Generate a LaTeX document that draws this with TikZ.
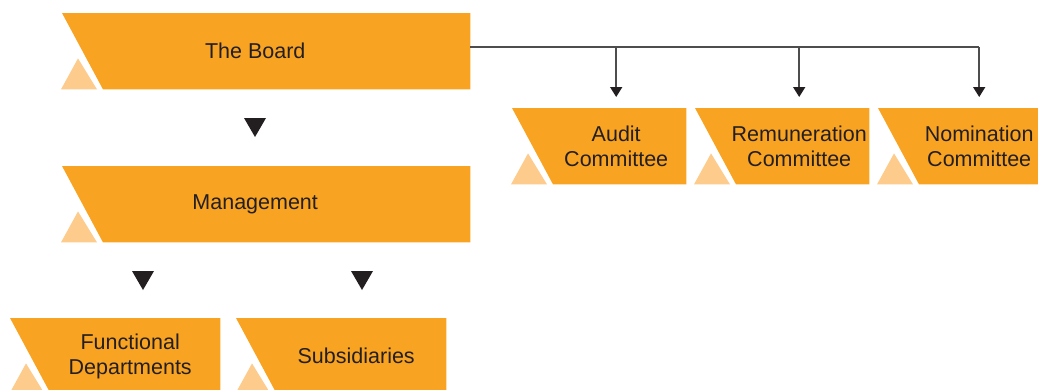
\documentclass[tikz,border=0pt]{standalone}
\usepackage{fontspec}
\setmainfont{Liberation Sans}
\usepackage{tikz}
\usetikzlibrary{positioning, arrows.meta, calc}

\definecolor{govorange}{HTML}{F9A323}
\definecolor{govlight}{HTML}{FDCB8B}
\definecolor{govtext}{HTML}{231F20}
\definecolor{govline}{HTML}{4D4D4D}

% #1 name, #2 top left corner, #3 width, #4 text shift, #5 text
\newcommand\govbox[5]{
    \node[boxframe, minimum width=#3, anchor=north west] (#1) at #2 {};
    \fill[govorange] (#1.north west) -- (#1.north east) -- (#1.south east)
        -- ([xshift=41pt]#1.south west) -- cycle;
    \fill[govlight] ([xshift=-1pt]#1.south west) -- ([xshift=16pt, yshift=31pt]#1.south west)
        -- ([xshift=35pt]#1.south west) -- cycle;
    \node[boxtext] (#1 text) at ([xshift=#4]#1.center) {#5};
}

\begin{document}
\begin{tikzpicture}[
            x=1pt, y=-1pt,
            boxframe/.style={draw=none, inner sep=0pt, minimum height=76pt},
            boxtext/.style={align=center, text=govtext, inner sep=0pt,
                font=\fontsize{21.5}{25}\selectfont},
            link/.style={draw=govline, line width=1.6pt},
            downmark/.style={fill=govtext},
        ]
            \useasboundingbox (0,0) rectangle (1038,389);

            \govbox{board}{(62,13)}{408pt}{-11pt}{The Board}
            \govbox{management}{(62,166)}{408pt}{-11pt}{Management}
            \govbox{functional}{(10,318)}{210pt}{15pt}{Functional\\Departments}
            \govbox{subsidiaries}{(236,318)}{210pt}{15pt}{Subsidiaries}
            \govbox{audit}{(512,108)}{174pt}{17pt}{Audit\\Committee}
            \govbox{remuneration}{(695,108)}{174pt}{17pt}{Remuneration\\Committee}
            \govbox{nomination}{(878,108)}{174pt}{14pt}{Nomination\\Committee}

            % down markers between levels
            \coordinate (mark board) at (255,127.5);
            \coordinate (mark functional) at (143,280.5);
            \coordinate (mark subsidiaries) at (362,280.5);
            \foreach \m in {board, functional, subsidiaries} {
                \fill[downmark] (mark \m) ++(-11,-9.5) -- ++(22,0) -- ++(-11,19) -- cycle;
            }

            % board to committees
            \coordinate (bus) at ([yshift=4pt]board.east);
            \draw[link] (bus) -- (bus -| nomination text);
            \foreach \c in {audit, remuneration, nomination} {
                \draw[link, -{Triangle[width=12pt, length=10pt, color=govtext]}]
                    (bus -| \c\space text) -- ([yshift=11pt]\c.north -| \c\space text);
            }
        \end{tikzpicture}
\end{document}
